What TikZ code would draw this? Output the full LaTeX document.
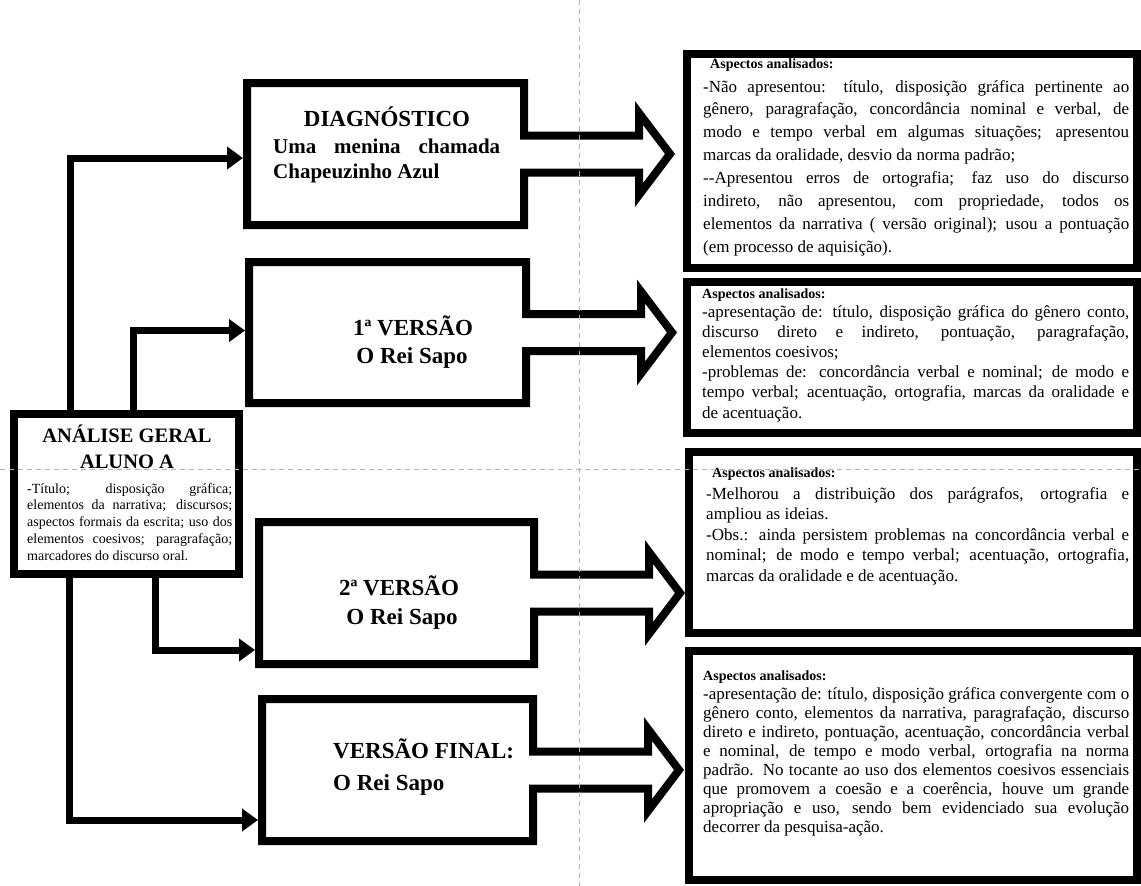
\documentclass[tikz,border=0pt]{standalone}
\usepackage{fontspec}
\setmainfont{Liberation Serif}
\usetikzlibrary{calc,arrows.meta}
\pretolerance=10000 \tolerance=10000 \hbadness=10000 \hfuzz=20pt
\tikzset{
  boxnode/.style={rectangle, inner sep=0pt, outer sep=0pt, draw=none},
  outl/.style={draw=black, line width=8pt, fill=white, line join=miter},
  rbox/.style={rectangle, inner sep=0pt, outer sep=0pt, draw=black, line width=8pt, fill=white},
  conn/.style={draw=black, line width=7pt, line join=miter, shorten >=4pt, -{Triangle[length=16pt,width=22pt]}},
  ttl/.style={font=\fontsize{23}{28}\selectfont\bfseries, inner sep=0pt, anchor=base},
  ttlw/.style={font=\fontsize{23}{28}\selectfont\bfseries, inner sep=0pt, anchor=base west},
  antl/.style={font=\fontsize{20.5}{26}\selectfont\bfseries, inner sep=0pt, anchor=base},
  rhead/.style={font=\fontsize{14}{16}\selectfont\bfseries, inner sep=0pt, anchor=base west},
  rbody/.style={inner sep=0pt, anchor=base west, align=justify},
  guide/.style={draw=black!30, line width=0.9pt, dash pattern=on 5pt off 4pt}
}
\newcommand\callout[1]{%
  \draw[outl] (#1.north west) -- (#1.north east) -- ($(#1.east)+(0,-18.5)$)
    -- ($(#1.east)+(115,-18.5)$) -- ($(#1.east)+(115,-41)$) -- ($(#1.east)+(146,0)$)
    -- ($(#1.east)+(115,41)$) -- ($(#1.east)+(115,18.5)$) -- ($(#1.east)+(0,18.5)$)
    -- (#1.south east) -- (#1.south west) -- cycle;}
\begin{document}
\begin{tikzpicture}[x=1pt,y=-1pt]
\fill[white] (0,0) rectangle (1141,886);
\useasboundingbox (0,0) rectangle (1141,886);

% box placeholders
\node[boxnode, minimum width=225pt, minimum height=160pt] (an) at (126.5,494) {};
\node[boxnode, minimum width=277pt, minimum height=142pt] (diag) at (385.5,154) {};
\node[boxnode, minimum width=277pt, minimum height=141pt] (v1) at (387.5,332.5) {};
\node[boxnode, minimum width=275pt, minimum height=142pt] (v2) at (396.5,593) {};
\node[boxnode, minimum width=271pt, minimum height=142pt] (vf) at (397.5,770) {};

% connectors
\draw[conn] ($(an.north west)+(56,0)$) |- ($(diag.west)+(0,4)$);
\draw[conn] ($(an.north west)+(119,0)$) |- ($(v1.west)+(0,-2)$);
\draw[conn] ($(an.south west)+(141,0)$) |- ($(v2.west)+(0,57)$);
\draw[conn] ($(an.south west)+(55,0)$) |- ($(vf.west)+(0,50)$);

% outlines
\draw[outl] (an.north west) rectangle (an.south east);
\callout{diag}
\callout{v1}
\callout{v2}
\callout{vf}

% right boxes
\node[rbox, minimum width=450pt, minimum height=214pt] (r1) at (912,161) {};
\node[rbox, minimum width=450pt, minimum height=151pt] (r2) at (912,357.5) {};
\node[rbox, minimum width=448pt, minimum height=181pt] (r3) at (913,542.5) {};
\node[rbox, minimum width=448pt, minimum height=229pt] (r4) at (913,765.5) {};

% central box text
\node[antl] (ant1) at (127,442) {ANÁLISE GERAL};
\node[antl] (ant2) at (127,468) {ALUNO A};
\node[rbody, text width=205pt, font=\fontsize{14}{16.8}\selectfont] (anb) at (27,493)
 {-Título; disposição gráfica;\linebreak elementos da narrativa; discursos;\linebreak aspectos formais da escrita; uso dos\linebreak elementos coesivos; paragrafação;\linebreak marcadores do discurso oral.};

% left box texts
\node[ttl] (diagt) at (387,126) {DIAGNÓSTICO};
\node[rbody, text width=227pt, font=\fontsize{21}{25}\selectfont\bfseries] (diags) at (273,153)
 {Uma menina chamada\linebreak Chapeuzinho Azul};
\node[ttl] (v1t) at (413,335) {1ª VERSÃO};
\node[ttl] (v1s) at (412,363) {O Rei Sapo};
\node[ttl] (v2t) at (399,595) {2ª VERSÃO};
\node[ttl] (v2s) at (402,624) {O Rei Sapo};
\node[ttlw] (vft) at (333,758) {VERSÃO FINAL:};
\node[ttlw] (vfs) at (333,790) {O Rei Sapo};

% right box texts
\node[rhead] (r1h) at (710,68) {Aspectos analisados:};
\node[rbody, text width=426pt, font=\fontsize{17}{22.9}\selectfont] (r1b) at (703,92)
 {-Não apresentou: título, disposição gráfica pertinente ao\linebreak gênero, paragrafação, concordância nominal e verbal, de\linebreak modo e tempo verbal em algumas situações; apresentou\linebreak marcas da oralidade, desvio da norma padrão;\\
 -{}-Apresentou erros de ortografia; faz uso do discurso\linebreak indireto, não apresentou, com propriedade, todos os\linebreak elementos da narrativa ( versão original); usou a pontuação\linebreak (em processo de aquisição).};

\node[rhead] (r2h) at (702,298) {Aspectos analisados:};
\node[rbody, text width=427pt, font=\fontsize{17}{20.2}\selectfont] (r2b) at (702,317)
 {-apresentação de: título, disposição gráfica do gênero conto,\linebreak discurso direto e indireto, pontuação, paragrafação,\linebreak elementos coesivos;\\
 -problemas de: concordância verbal e nominal; de modo e\linebreak tempo verbal; acentuação, ortografia, marcas da oralidade e\linebreak de acentuação.};

\node[rhead] (r3h) at (712,477) {Aspectos analisados:};
\node[rbody, text width=423pt, font=\fontsize{17}{20.5}\selectfont] (r3b) at (706,499)
 {-Melhorou a distribuição dos parágrafos, ortografia e\linebreak ampliou as ideias.\\
 -Obs.: ainda persistem problemas na concordância verbal e\linebreak nominal; de modo e tempo verbal; acentuação, ortografia,\linebreak marcas da oralidade e de acentuação.};

\node[rhead] (r4h) at (703,680) {Aspectos analisados:};
\node[rbody, text width=426pt, font=\fontsize{17}{19}\selectfont] (r4b) at (703,699)
 {-apresentação de: título, disposição gráfica convergente com o\linebreak gênero conto, elementos da narrativa, paragrafação, discurso\linebreak direto e indireto, pontuação, acentuação, concordância verbal\linebreak e nominal, de tempo e modo verbal, ortografia na norma\linebreak padrão. No tocante ao uso dos elementos coesivos essenciais\linebreak que promovem a coesão e a coerência, houve um grande\linebreak apropriação e uso, sendo bem evidenciado sua evolução\linebreak decorrer da pesquisa-ação.};

% guide lines
\draw[guide] (579,0) -- (579,886);
\draw[guide] (0,469) -- (1141,469);
\end{tikzpicture}
\end{document}
